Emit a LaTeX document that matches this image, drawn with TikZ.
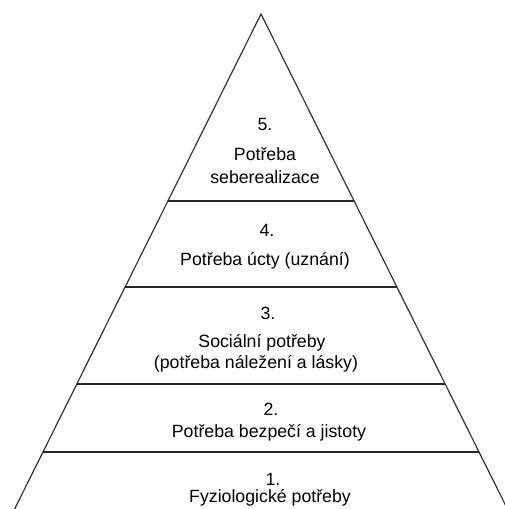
\documentclass[tikz,border=0pt]{standalone}
\usepackage{fontspec}
\setmainfont{Liberation Sans}
\usetikzlibrary{calc}

\tikzset{
  level/.style={draw=black!85, line width=1.3pt},
  edge/.style={draw=black!80, line width=0.9pt},
  lbl/.style={anchor=base, inner sep=0pt, font=\fontsize{13.3}{16}\selectfont}
}

\begin{document}
\begin{tikzpicture}[x=0.75pt, y=-0.75pt]
\useasboundingbox (0,0) rectangle (504,509);

% Pyramid outline (base runs off the bottom of the picture)
\coordinate (apex) at (261,14);
\coordinate (bl) at (14.6,509);
\coordinate (br) at (507.4,509);
\draw[edge] (bl) -- (apex) -- (br);

% Dividing lines between the levels
\foreach \t/\name in {0.1152/d1, 0.2525/d2, 0.4485/d3, 0.6222/d4} {
  \coordinate (\name l) at ($(bl)!\t!(apex)$);
  \coordinate (\name r) at ($(br)!\t!(apex)$);
  \draw[level] (\name l) -- (\name r);
}

% Level 5
\node[lbl] (num5) at (265,131) {5.};
\node[lbl] (txt5a) at (265,161) {Potřeba};
\node[lbl] (txt5b) at (265,184) {seberealizace};

% Level 4
\node[lbl] (num4) at (267,237) {4.};
\node[lbl] (txt4) at (265,265) {Potřeba úcty (uznání)};

% Level 3
\node[lbl] (num3) at (268,319) {3.};
\node[lbl] (txt3a) at (262,347) {Sociální potřeby};
\node[lbl] (txt3b) at (256,368) {(potřeba náležení a lásky)};

% Level 2
\node[lbl] (num2) at (271,415) {2.};
\node[lbl] (txt2) at (269,437) {Potřeba bezpečí a jistoty};

% Level 1
\node[lbl] (num1) at (273,485) {1.};
\node[lbl] (txt1) at (270,502) {Fyziologické potřeby};

\end{tikzpicture}
\end{document}
